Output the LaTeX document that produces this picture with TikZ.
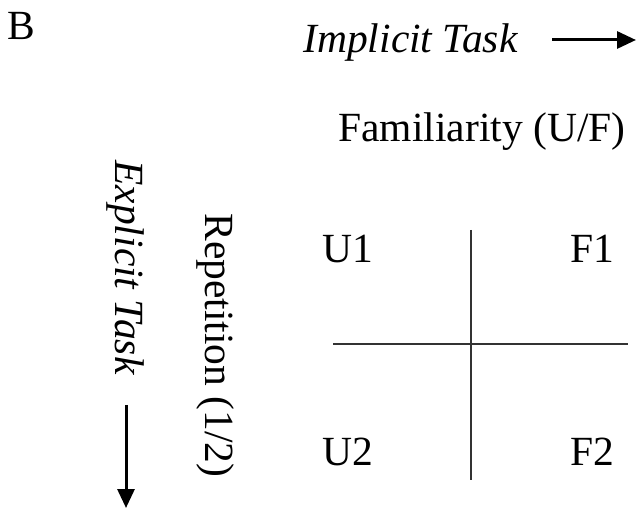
\documentclass[tikz,border=0pt]{standalone}
\usepackage{fontspec}
\setmainfont{Liberation Serif}
\usepackage{tikz}
\usetikzlibrary{positioning,arrows.meta}

\tikzset{
  lbl/.style={inner sep=0pt, font=\fontsize{20.75pt}{24pt}\selectfont},
  tasklbl/.style={lbl, font=\fontsize{20.75pt}{24pt}\selectfont\itshape},
  taskarrow/.style={line width=1.5pt, -{Triangle[length=9.5pt,width=8.5pt]}},
  quadline/.style={line width=1.1pt, draw=black!80}
}

\begin{document}
\begin{tikzpicture}[x=0.5pt,y=0.5pt]
  \useasboundingbox (0,0) rectangle (636,508);

  \node[lbl, anchor=base west] (panel) at (7,468) {B};

  \node[tasklbl, anchor=base west] (implicit) at (303,455) {Implicit Task};
  \coordinate (implicitstart) at (552,468);
  \coordinate (implicitend) at (636,468);
  \draw[taskarrow] (implicitstart) -- (implicitend);

  \node[lbl, anchor=base west] (familiarity) at (338,366) {Familiarity (U/F)};

  \node[tasklbl, rotate=-90, anchor=base west] (explicit) at (115,348) {Explicit Task};
  \coordinate (explicitstart) at (126,103);
  \coordinate (explicitend) at (126,0);
  \draw[taskarrow] (explicitstart) -- (explicitend);

  \node[lbl, rotate=-90, anchor=base west] (repetition) at (205,295) {Repetition (1/2)};

  \node[lbl, anchor=base west] (u1) at (322,245) {U1};
  \node[lbl, anchor=base east] (f1) at (615,245) {F1};
  \node[lbl, anchor=base west] (u2) at (322,43) {U2};
  \node[lbl, anchor=base east] (f2) at (615,43) {F2};

  \coordinate (vtop) at (471,278);
  \coordinate (vbottom) at (471,28);
  \coordinate (hleft) at (333,164);
  \coordinate (hright) at (628,164);
  \draw[quadline] (vtop) -- (vbottom);
  \draw[quadline] (hleft) -- (hright);
\end{tikzpicture}
\end{document}
